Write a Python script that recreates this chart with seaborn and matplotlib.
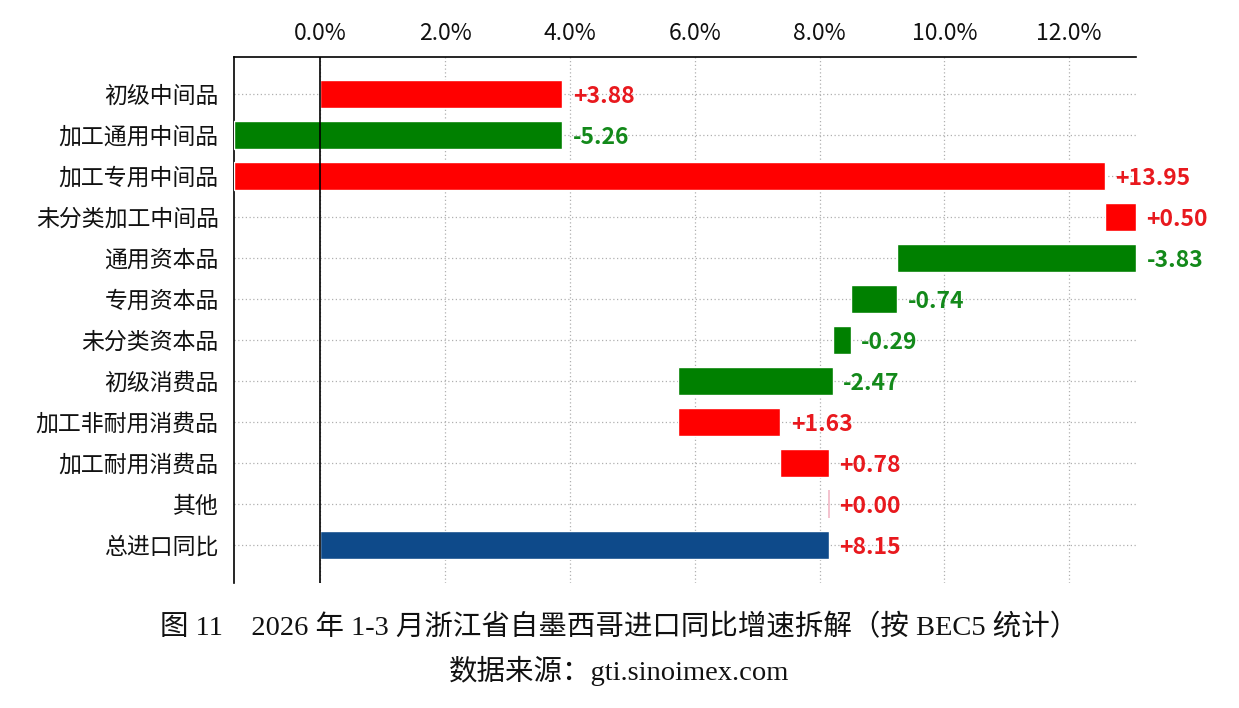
#!/usr/bin/env python3
"""Waterfall of year-on-year import growth by BEC5 category (Zhejiang from Mexico)."""

import numpy as np
import matplotlib
matplotlib.use('Agg')
import matplotlib.pyplot as plt
import seaborn as sns


categories = ['初级中间品', '加工通用中间品', '加工专用中间品', '未分类加工中间品',
              '通用资本品', '专用资本品', '未分类资本品', '初级消费品',
              '加工非耐用消费品', '加工耐用消费品', '其他', '总进口同比']
contrib = [3.88, -5.26, 13.95, 0.50, -3.83, -0.74, -0.29, -2.47, 1.63, 0.78, 0.00]
total = 8.15
x_ticks = [0, 2, 4, 6, 8, 10, 12]

RED = '#ff0000'
GREEN = '#008000'
BLUE = '#0e4a8a'
TEXT_RED = '#e8191e'
TEXT_GREEN = '#13891a'

sns.set_theme(style='white')
plt.rcParams['font.family'] = ['Noto Sans CJK SC', 'DejaVu Sans']

# waterfall geometry
ends = np.cumsum(contrib)
starts = np.concatenate([[0.0], ends[:-1]])
lefts = list(np.minimum(starts, ends)) + [0.0]
widths = list(np.abs(contrib)) + [total]
rights = [l + w for l, w in zip(lefts, widths)]
values = list(contrib) + [total]

fig = plt.figure(figsize=(12.39, 7.08), dpi=100)
ax = fig.add_axes([234 / 1239, 1 - 583 / 708, (1136 - 234) / 1239, (583 - 57) / 708])

sns.barplot(x=widths, y=categories, left=lefts, orient='y', color=RED,
            width=0.7, saturation=1, ax=ax, zorder=3)

for patch, v, name in zip(ax.patches, values, categories):
    if name == '总进口同比':
        patch.set_facecolor(BLUE)
    elif v > 0:
        patch.set_facecolor(RED)
    elif v < 0:
        patch.set_facecolor(GREEN)
    else:
        patch.set_facecolor('none')
        patch.set_edgecolor('#f2b8c6')
        patch.set_linewidth(1.2)

# value labels
for i, (v, r) in enumerate(zip(values, rights)):
    col = TEXT_GREEN if v < 0 else TEXT_RED
    ax.text(r + 0.17, i + 0.06, f'{v:+.2f}', va='center', ha='left', fontsize=16.5,
            fontweight='bold', color=col, zorder=4)

ax.set_xlim(min(lefts), max(rights))
ax.set_ylim(len(categories) - 1 + 0.93, -0.9)
ax.set_xticks(x_ticks)
ax.set_xticklabels([f'{t:.1f}%' for t in x_ticks])
ax.xaxis.tick_top()
ax.tick_params(axis='x', labelsize=16.5, pad=9, length=0, colors='#111111')
ax.tick_params(axis='y', labelsize=16.5, pad=11, length=0, colors='#111111')
ax.set_xlabel('')
ax.set_ylabel('')

ax.grid(True, axis='both', linestyle=(0, (1, 2)), color='#b0b0b0', linewidth=0.9, zorder=0)
ax.set_axisbelow(True)
ax.axvline(0, color='black', linewidth=1.2, zorder=5)

for side in ['right', 'bottom']:
    ax.spines[side].set_visible(False)
for side in ['top', 'left']:
    ax.spines[side].set_color('black')
    ax.spines[side].set_linewidth(1.2)

serif = ['Liberation Serif', 'Noto Sans CJK SC']
fig.text(0.5, 1 - 628 / 708, '图 11　2026 年 1-3 月浙江省自墨西哥进口同比增速拆解（按 BEC5 统计）',
         ha='center', va='center', fontsize=20.5, family=serif, color='#111111')
fig.text(0.5, 1 - 671 / 708, '数据来源：gti.sinoimex.com',
         ha='center', va='center', fontsize=20.5, family=serif, color='#111111')

fig.savefig('out.png', dpi=100)
plt.close(fig)
